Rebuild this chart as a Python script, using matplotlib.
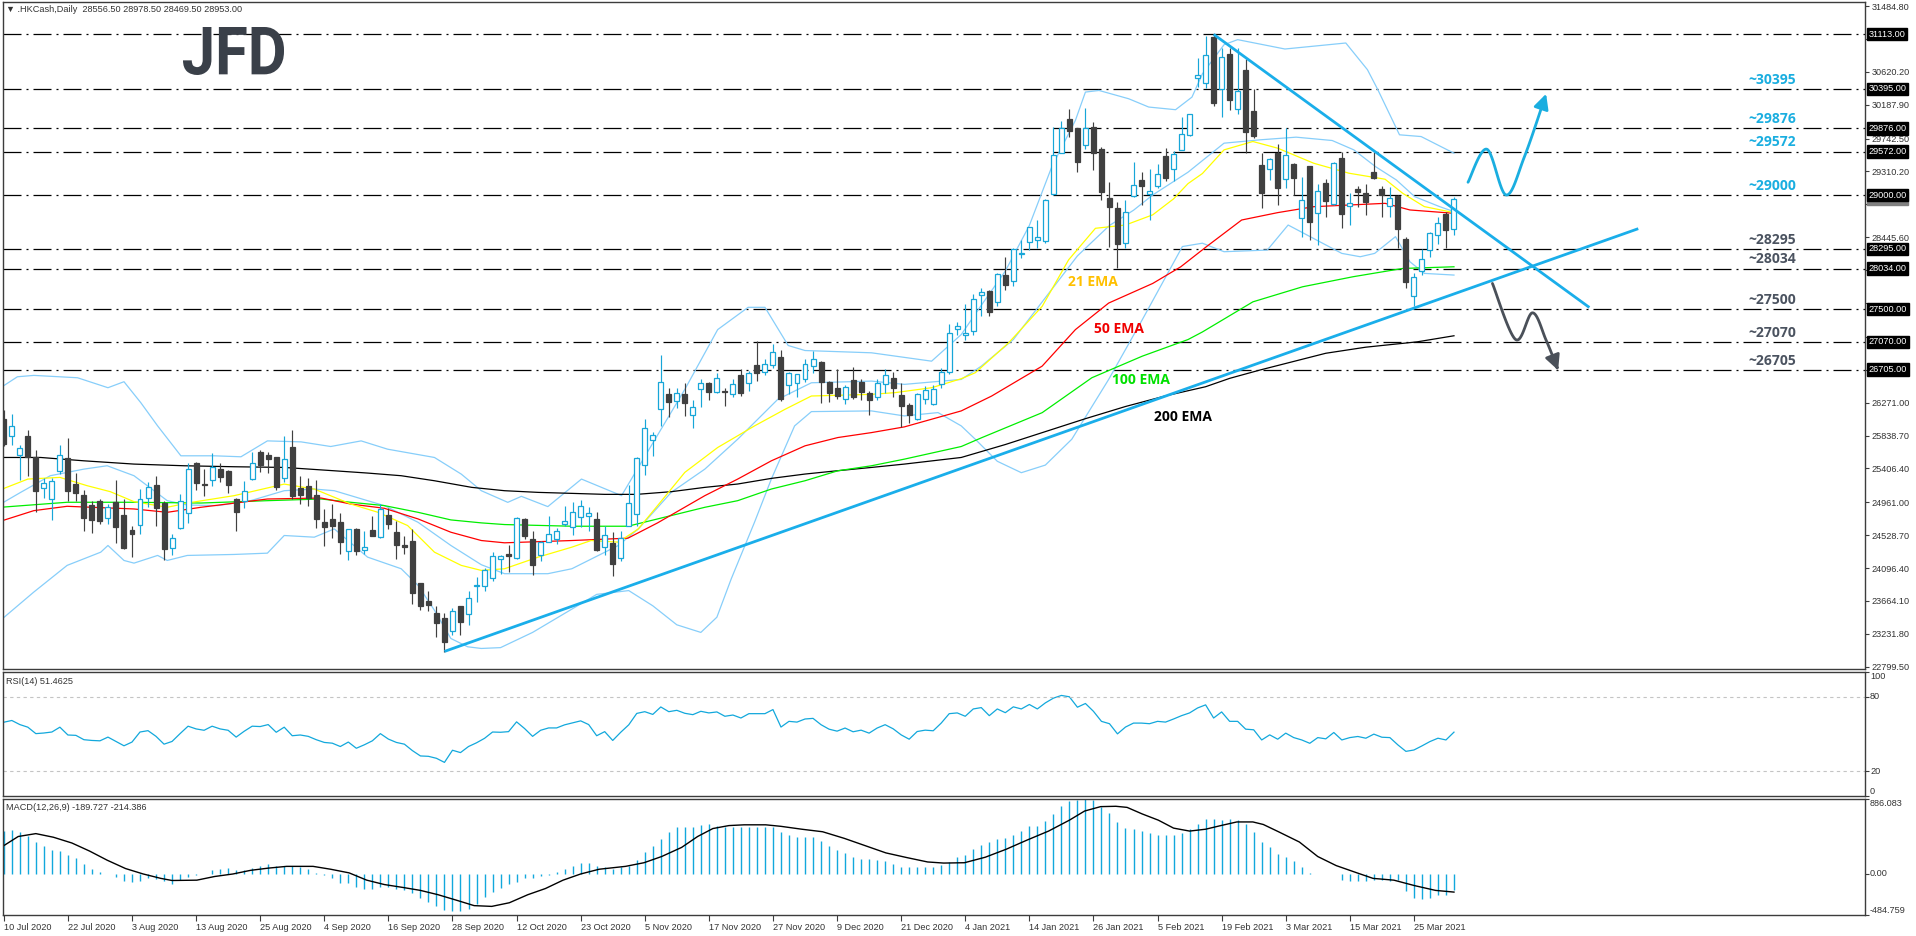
import numpy as np
import matplotlib
matplotlib.use("Agg")
import matplotlib.pyplot as plt
from matplotlib.transforms import blended_transform_factory, Affine2D
from matplotlib.textpath import TextPath
from matplotlib.font_manager import FontProperties
from matplotlib.patches import PathPatch

plt.rcParams['font.family'] = ['Liberation Sans', 'DejaVu Sans']

# ---------------- data ----------------
ohlc = [
(26061,26174,25700,25725),(25834,26117,25711,25965),(25589,25711,25257,25681),(25829,25908,25310,25554),
(25554,25646,24838,25113),(25152,25284,25021,25209),(24999,25284,24733,25235),(25375,25720,25331,25576),
(25541,25803,24982,25113),(25200,25345,24982,25087),(25056,25122,24589,24755),(24925,24982,24554,24733),
(24978,25004,24676,24720),(24759,24938,24681,24895),(24965,25249,24427,24642),(24794,25004,24349,24358),
(24598,24655,24244,24550),(24668,25135,24546,25000),(25013,25231,24904,25157),(25188,25301,24655,24882),
(24951,24982,24196,24353),(24358,24541,24262,24489),(24624,25070,24611,24982),(24816,25471,24690,25393),
(25476,25485,25122,25218),(25192,25393,25048,25183),(25249,25611,25179,25423),(25397,25476,25231,25297),
(25371,25388,25083,25192),(25004,25013,24589,24838),(24982,25236,24882,25105),(25262,25620,25253,25471),
(25620,25646,25362,25454),(25581,25616,25349,25528),(25554,25559,25126,25166),(25284,25829,25231,25524),
(25685,25908,25000,25048),(25148,25301,24938,25056),(25170,25279,24917,25013),(25056,25253,24624,24742),
(24703,24873,24380,24642),(24742,24938,24489,24655),(24703,24820,24283,24445),(24318,24611,24196,24607),
(24607,24620,24262,24318),(24340,24585,24275,24371),(24594,24777,24511,24524),(24498,24938,24489,24869),
(24794,24882,24611,24676),(24567,24716,24218,24393),(24397,24519,24275,24367),(24450,24611,23628,23773),
(23899,23899,23550,23598),(23663,23799,23528,23607),(23506,23598,23192,23375),(23441,23506,22995,23126),
(23266,23572,23222,23528),(23602,23602,23214,23384),(23493,23794,23345,23703),(23856,23978,23646,23864),
(23860,24100,23800,24065),(23965,24306,23930,24253),(24210,24270,24022,24253),(24284,24402,24044,24253),
(24231,24773,24218,24751),(24742,24751,24472,24524),(24480,24581,24000,24131),(24262,24450,24183,24437),
(24445,24777,24437,24541),(24472,24629,24415,24581),(24677,24908,24646,24712),(24633,24961,24537,24830),
(24764,24991,24642,24917),(24777,24904,24589,24816),(24742,24830,24314,24327),(24371,24646,24262,24533),
(24424,24568,23991,24144),(24227,24589,24183,24489),(24655,25188,24646,24952),(24808,25550,24655,25541),
(25454,26052,25319,25943),(25782,25891,25572,25847),(26183,26891,25965,26546),(26380,26467,26083,26279),
(26293,26458,26196,26393),(26380,26524,26096,26271),(26109,26301,25943,26218),(26445,26585,26218,26533),
(26533,26541,26306,26410),(26410,26664,26393,26598),(26428,26458,26227,26410),(26389,26585,26349,26520),
(26629,26716,26358,26393),(26533,26686,26423,26664),(26760,27087,26554,26655),(26677,26838,26629,26773),
(26764,27044,26720,26939),(26869,26969,26293,26314),(26502,26672,26380,26655),(26533,26651,26345,26642),
(26585,26851,26541,26782),(26751,26948,26664,26838),(26808,26817,26262,26546),(26541,26554,26279,26393),
(26458,26716,26314,26358),(26323,26502,26258,26476),(26563,26738,26314,26345),(26546,26585,26301,26410),
(26402,26423,26109,26306),(26349,26576,26306,26533),(26520,26716,26393,26633),(26598,26677,26349,26458),
(26367,26524,25956,26227),(26236,26271,26000,26109),(26052,26402,26044,26389),(26323,26489,26258,26437),
(26249,26502,26240,26445),(26520,26729,26458,26677),(26672,27310,26650,27188),(27240,27332,27166,27275),
(27161,27567,27100,27187),(27209,27703,27166,27633),(27685,27777,27406,27720),(27742,27746,27406,27458),
(27589,27974,27546,27961),(27952,28183,27746,27812),(27864,28301,27799,28288),(28231,28410,28166,28240),
(28388,28585,28271,28576),(28410,28672,28301,28445),(28397,28943,28375,28934),(29008,29895,29000,29532),
(29559,29974,29554,29886),(29995,30135,29764,29843),(29878,29886,29305,29436),(29664,30148,29607,29878),
(29891,29956,29327,29554),(29602,29633,28934,29043),(28956,29174,28323,28847),(28825,28904,28039,28353),
(28366,28934,28301,28773),(28991,29428,28978,29131),(29196,29297,28869,29122),(29008,29340,28672,29057),
(29122,29406,29087,29283),(29511,29620,29183,29227),(29336,29576,29187,29546),(29598,30026,29589,29808),
(29786,30070,29773,30065),(30541,30799,30419,30581),(30472,31087,30406,30845),(31073,31113,30165,30208),
(30393,30933,30024,30814),(30858,30933,30121,30252),(30130,30933,30068,30362),(30648,30788,29550,29835),
(30108,30393,29748,29770),(29396,29550,28826,29023),(29339,29493,29199,29471),(29559,29673,28870,29089),
(29212,29879,29089,29528),(29409,29418,29001,29221),(28694,29234,28453,28935),(29388,29388,28409,28641),
(28760,29146,28343,29058),(29155,29208,28707,28927),(28883,29440,28870,29418),(29484,29572,28562,28747),
(28856,29032,28606,28900),(29076,29124,28839,29045),(29023,29146,28738,28913),(29309,29572,29208,29221),
(29076,29120,28707,29001),(28856,29111,28716,28966),(28988,29001,28299,28549),(28422,28444,27772,27851),
(27671,27978,27540,27917),(28005,28286,27948,28163),(28277,28518,28189,28496),(28475,28707,28356,28637),
(28747,28782,28299,28540),(28556.5,28978.5,28469.5,28953.0),
]

date_labels = ["10 Jul 2020", "22 Jul 2020", "3 Aug 2020", "13 Aug 2020", "25 Aug 2020", "4 Sep 2020",
               "16 Sep 2020", "28 Sep 2020", "12 Oct 2020", "23 Oct 2020", "5 Nov 2020", "17 Nov 2020",
               "27 Nov 2020", "9 Dec 2020", "21 Dec 2020", "4 Jan 2021", "14 Jan 2021", "26 Jan 2021",
               "5 Feb 2021", "19 Feb 2021", "3 Mar 2021", "15 Mar 2021", "25 Mar 2021"]
date_bars = list(range(0, 177, 8))

ema21 = [(-0.4,25126),(3,25266),(7,25288),(10.4,25179),(13.3,25100),(16.25,24969),(20.4,24895),(22.9,24951),
         (28.75,25048),(35,25200),(38.75,25135),(43.3,24938),(46.7,24829),(50.4,24655),(53.75,24305),(57.1,24131),
         (59.6,24065),(62.5,24087),(66.7,24240),(70.9,24371),(73.3,24458),(76.7,24437),(79.2,24611),(81.6,24917),
         (85,25354),(89.1,25681),(93.7,25965),(97.5,26183),(100.8,26358),(108.3,26380),(111.2,26402),(115.8,26467),
         (119.5,26585),(121.25,26664),(125.4,27056),(129.6,27537),(132.9,28148),(136.25,28563),(140,28606),
         (143.4,28740),(146,28950),(147.8,29150),(149.6,29283),(152.3,29594),(155.9,29704),(159,29616),
         (163.5,29418),(167.9,29287),(172.4,29208),(174.6,29023),(177.3,28848),(181,28769)]
ema50 = [(-0.4,24712),(3.75,24851),(7.9,24908),(16.25,24873),(20.4,24829),(24.6,24895),(32.9,25004),(39.6,25017),
         (43.3,24938),(47.5,24882),(51.7,24742),(55.8,24567),(59.6,24458),(62.5,24428),(70.9,24458),(77.9,24489),
         (81.6,24690),(87.5,25048),(91.6,25266),(95.8,25506),(100,25703),(104.1,25812),(108.3,25877),(112.4,25952),
         (119.5,26162),(123.3,26358),(129.6,26751),(133.75,27231),(137.9,27580),(143.4,27838),(146.9,28057),
         (150.1,28321),(154.5,28672),(159,28769),(163.5,28847),(167.9,28869),(172.4,28891),(175.5,28804),(181,28760)]
ema100 = [(-0.4,24895),(7.9,24961),(16.25,24961),(24.6,24951),(32.9,24982),(39.6,25004),(43.3,24961),(47.5,24917),
          (51.7,24829),(55.8,24729),(59.6,24690),(62.5,24668),(70.9,24646),(77.9,24646),(81.6,24742),(87.5,24895),
          (91.6,24982),(95.8,25135),(100,25244),(104.1,25375),(108.3,25441),(112.4,25528),(119.5,25694),(122.1,25812),
          (129.6,26139),(135.8,26598),(142.1,26882),(147.8,27100),(149.6,27200),(155.9,27596),(162.1,27794),
          (168.4,27926),(174.6,28035),(181,28057)]
ema200 = [(-0.4,25550),(4.6,25550),(10,25506),(16.25,25463),(22.5,25441),(28.75,25428),(35,25419),(41.25,25375),
          (45.4,25345),(49.6,25310),(53.75,25244),(58.4,25157),(62.5,25113),(66.7,25091),(70.9,25078),(75,25065),
          (79,25065),(83.3,25100),(87.5,25157),(91.6,25201),(95.8,25275),(100,25332),(104,25375),(108.3,25419),
          (112.4,25463),(119.5,25550),(125,25720),(130,25890),(135,26060),(140,26220),(145,26360),(150,26480),
          (153,26590),(156.8,26700),(165,26920),(170,27000),(176.4,27070),(181,27150)]

bb_upper = [(-0.4,26467),(1.7,26611),(3.75,26629),(9.2,26598),(13,26467),(15,26546),(17.1,26270),(19.2,25965),
            (22.1,25572),(26.25,25572),(29.6,25559),(32.9,25768),(37.1,25755),(40.8,25694),(44.6,25768),(47.9,25659),
            (53.75,25550),(57.1,25331),(59.6,25113),(62.9,24960),(64.6,25039),(67.9,24904),(72.1,25266),(77.1,25048),
            (80.8,25703),(85,26445),(89.1,27231),(92.9,27524),(95,27524),(97.9,27022),(100,26956),(108.3,26926),
            (115.8,26816),(119.5,27166),(122,27550),(125,28000),(128,28600),(130.8,29371),(133.75,29982),(135,30354),
            (136.7,30375),(140.4,30266),(142.9,30157),(146.25,30122),(148.3,30288),(149.6,30594),(152.3,30977),
            (154,31043),(159.9,30920),(167.5,30999),(170.2,30648),(171.5,30384),(174.2,29792),(176.9,29769),(181,29550)]
bb_mid = [(-0.4,24938),(2.1,25091),(5.8,25310),(10,25397),(12.9,25441),(16.25,25310),(20.4,24982),(22.9,24925),
          (26.7,24917),(30.8,24982),(35,25113),(38.75,25135),(41.25,25113),(45.4,24982),(47.5,24917),(51.7,24698),
          (55.8,24393),(59.6,24140),(62.5,24022),(67.9,24022),(70.9,24087),(76.7,24393),(79.2,24611),(83.3,25091),
          (87.5,25397),(91.6,25790),(96.6,26314),(100.8,26532),(108.3,26554),(112.4,26511),(119.5,26576),(122,26750),
          (126,27100),(130,27650),(134,28200),(138,28600),(141,28800),(143.4,29001),(147.8,29300),(152.3,29682),
          (156.8,29726),(161.3,29761),(165.8,29717),(168.5,29594),(171.2,29374),(173.8,29199),(176.1,28979),
          (179.2,28848),(181,28782)]
bb_lower = [(-0.4,23410),(3.75,23781),(7.9,24131),(12.1,24305),(13,24393),(15,24196),(16.25,24161),(19.2,24262),
            (20.4,24196),(22.9,24262),(28.75,24275),(32.9,24292),(35,24524),(38.75,24502),(41.25,24611),(45.4,24240),
            (49.6,24087),(51.7,23869),(53.75,23541),(55.8,23170),(57.9,23061),(59.6,23039),(62,23050),(66,23250),
            (70,23500),(74,23750),(78,23800),(81,23600),(84,23350),(87,23250),(89,23450),(90.8,23956),(93.7,24699),
            (95.8,25266),(98.7,25965),(100.8,26153),(108.3,26162),(112.4,26096),(116.6,26140),(119.5,25965),
            (121.25,25790),(124,25500),(127,25350),(130,25450),(133.3,25790),(137.9,26576),(142.1,27362),(147.1,28323),
            (149.6,28367),(152.3,28255),(157.7,28277),(160.3,28606),(167,28233),(169.3,28189),(171.1,28233),
            (173.7,28453),(175.5,28123),(177.3,27970),(181,27948)]

levels_blue = [30395, 29876, 29572, 29000]
levels_gray = [28295, 28034, 27500, 27070, 26705]
level_top = 31113
last_price = 28953.00

price_ticks = [31484.80, 31052.50, 30620.20, 30187.90, 29742.50, 29310.20, 28877.90, 28445.60, 28013.30,
               27581.00, 27135.60, 26703.30, 26271.00, 25838.70, 25406.40, 24961.00, 24528.70, 24096.40,
               23664.10, 23231.80, 22799.50]
hidden_ticks = [31052.50, 28877.90, 28013.30, 27581.00, 27135.60, 26703.30]

trend_up = [(55, 23000), (204, 28558)]
trend_down = [(151, 31113), (197.9, 27522)]

arrow_up_path = [(182.75, 29168), (185.1, 29603), (187.5, 29001), (189.8, 29506), (192.5, 30331)]
arrow_down_path = [(185.8, 27838), (188.7, 27100), (190.8, 27452), (192.5, 27092), (194, 26697)]

ema_labels = [("21 EMA", 135.9, 27860, '#FFC000'), ("50 EMA", 139.2, 27245, '#F00000'),
              ("100 EMA", 141.9, 26563, '#00E000'), ("200 EMA", 147.2, 26079, '#000000')]

rsi = [59.5, 60.9, 57.6, 55.5, 50.3, 50.8, 51.6, 55.5, 49.2, 48.9, 45.4, 44.8, 44.5, 47.5, 44.0, 40.5, 43.5, 51.6,
       52.7, 48.1, 41.8, 44.0,
       50.3, 56.3, 54.1, 53.0, 56.3, 54.1, 53.0, 47.5, 52.2, 56.3, 56.0, 57.6, 51.4, 55.5, 48.6, 49.2, 48.1, 45.4,
       43.2, 42.6, 39.9, 43.5,
       38.5, 41.3, 44.5, 50.3, 45.9, 43.2, 41.8, 36.6, 32.3, 32.0, 30.4, 27.1, 36.9, 35.0, 39.9, 42.9, 46.5, 51.6,
       51.4, 51.9, 59.8, 54.4,
       48.1, 53.0, 54.9, 54.9, 57.4, 59.0, 60.6, 57.6, 48.6, 51.9, 44.8, 51.4, 57.4, 66.6, 68.0, 65.8, 71.8, 68.0, 69.1,
       66.7, 65.6, 68.3, 67.0, 67.8, 64.3, 65.3, 62.9, 66.4, 66.4, 66.4, 69.7,
       55.6, 60.2, 59.6, 62.1, 62.6, 57.5, 53.9, 52.3, 54.8, 51.8, 53.1, 50.7,
       54.8, 57.5, 54.2, 49.3, 45.8, 52.0, 53.1, 52.6, 58.8, 66.4, 67.0, 64.3,
       70.2, 71.3, 64.8, 70.2, 67.2, 71.9, 70.2, 73.8, 70.2, 75.1, 78.9, 81.1,
       80.0, 71.6, 74.6, 68.3, 60.2, 58.3, 50.1, 55.6, 58.8, 58.8, 58.3, 60.2,
       59.6, 62.1, 64.8, 67.0, 71.0, 73.5, 62.9, 67.8, 60.2, 60.2, 53.9, 53.4,
       45.2, 49.3, 45.8, 50.7, 47.1, 45.2, 42.5, 47.1, 46.1, 51.2, 45.2, 47.1,
       48.0, 46.6, 49.9, 47.4, 47.1, 41.2, 36.0, 37.1, 40.4, 43.9, 46.6, 45.2, 51.5]

macd_hist = [507, 520, 494, 443, 378, 327, 280, 271, 228, 185, 120, 56, 21, -5, -30, -82, -95, -82, -52, -65, -86,
             -116, -73, -30, -9, 4, 43, 56, 65, 43, 43, 65, 90, 120, 99, 99, 90, 77, 56, 13, -9, -52,
             -103, -108, -150, -172, -172, -150, -159, -172, -194, -224, -288, -331, -374, -430, -439, -439, -417,
             -353, -267, -215, -168,
             -116, -95, -52, -52, -22, -9, 21, 56, 99, 129, 129, 90, 77, 56, 77, 99, 168, 262, 327, 409, 495, 550,
             559, 559, 581, 594, 572, 550, 550, 550, 550, 550, 550, 550,
             499, 464, 434, 434, 434, 391, 335, 279, 249, 206, 176, 172,
             163, 150, 120, 86, 86, 86, 77, 77, 107, 142, 198, 228,
             292, 348, 378, 409, 421, 464, 507, 563, 572, 628, 714, 800,
             860, 873, 881, 873, 796, 722, 619, 546, 533, 511, 490, 464,
             464, 464, 490, 533, 589, 649, 649, 641, 654, 641, 585, 499,
             378, 314, 241, 198, 150, 86, 9, 4, -4, 4, -73, -82,
             -86, -82, -73, -73, -82, -73, -202, -279, -301, -288, -254, -245, -190]

macd_signal = [(0,335),(1.8,443),(4,477),(6.2,434),(8.5,366),(10.7,271),(12.9,163),(15.2,64),(17.4,0),(19.6,-52),
               (21,-77),(24.1,-73),(26.3,-30),(28.6,0),(30.8,43),(33,69),(35.3,90),(38.6,90),(40.8,56),(43.1,13),
               (45.3,-73),(47.5,-125),(49.8,-159),(52,-194),(54.2,-245),(56.5,-310),(58.7,-374),(60.9,-383),
               (63.1,-340),(65.4,-245),(67.6,-172),(69.8,-73),(72,0),(74.3,56),(77.6,90),(79.9,133),(82.1,206),
               (84.6,314),(86.6,443),(88.5,537),(90.5,572),(92.4,581),(95.1,581),(97,563),(99.6,529),(102.2,499),
               (104.9,421),(107.5,335),(110.1,249),(112.7,194),(115.3,142),(117.3,129),(119.9,133),(122.5,198),
               (125.1,292),(127.7,400),(130.4,507),(133,636),(134.9,744),(136.9,796),(138.8,800),(140.2,787),
               (142.1,709),(144.1,636),(146,542),(148,507),(150,529),(151.9,572),(153.9,615),(155.9,615),
               (157.2,585),(159.1,499),(161.7,378),(164,206),(166.3,99),(168.9,13),(170.9,-52),(173.5,-73),
               (176.1,-138),(178.7,-194),(181,-214)]

# ---------------- layout ----------------
W, H = 1916, 936
fig = plt.figure(figsize=(W / 100, H / 100), dpi=100, facecolor='white')


def rect(l, t, r, b):
    return [l / W, 1 - b / H, (r - l) / W, (b - t) / H]


ax = fig.add_axes(rect(3, 2, 1865, 669))
ax_rsi = fig.add_axes(rect(3, 672, 1865, 796), sharex=ax)
ax_macd = fig.add_axes(rect(3, 799, 1865, 915), sharex=ax)

SPINE = '#3c3c3c'
TXT = '#333333'
BULL = '#17A6D8'
BEAR = '#404040'
BAND = '#87CEFA'
TREND = '#1AAEEA'
FS = 6.6

for a in (ax, ax_rsi, ax_macd):
    for s in a.spines.values():
        s.set_color(SPINE)
        s.set_linewidth(1.0)
    a.set_facecolor('white')

ax.set_xlim(-0.1, 232.3)
ax.set_ylim(22769, 31538)

# level lines
dash = (0, (14.4, 4.0, 1.6, 4.0))
for lv in [level_top] + levels_blue + levels_gray:
    ax.axhline(lv, color='black', lw=0.9, linestyle=dash, zorder=1)


def plot_series(a, pairs, **kw):
    xs = [p[0] for p in pairs]
    ys = [p[1] for p in pairs]
    a.plot(xs, ys, **kw)


# bollinger + emas
for band in (bb_upper, bb_mid, bb_lower):
    plot_series(ax, band, color=BAND, lw=0.9, zorder=2)
plot_series(ax, ema200, color='black', lw=0.9, zorder=2)
plot_series(ax, ema100, color='#00EE00', lw=0.9, zorder=2)
plot_series(ax, ema50, color='#FF0000', lw=0.9, zorder=2)
plot_series(ax, ema21, color='#FFFF00', lw=0.9, zorder=2)

# candles
o = np.array([r[0] for r in ohlc], float)
h = np.array([r[1] for r in ohlc], float)
l = np.array([r[2] for r in ohlc], float)
c = np.array([r[3] for r in ohlc], float)
x = np.arange(len(o))
up = c >= o
lo = np.minimum(o, c)
hi = np.maximum(o, c)
hgt = np.maximum(hi - lo, 12)
ax.vlines(x[up], l[up], h[up], color=BULL, lw=0.85, zorder=3)
ax.vlines(x[~up], l[~up], h[~up], color=BEAR, lw=0.85, zorder=3)
ax.bar(x[up], hgt[up], bottom=lo[up], width=0.62, facecolor='white', edgecolor=BULL, lw=0.9, zorder=4)
ax.bar(x[~up], hgt[~up], bottom=lo[~up], width=0.62, facecolor=BEAR, edgecolor=BEAR, lw=0.9, zorder=4)

# trend lines
for tl in (trend_up, trend_down):
    ax.plot([tl[0][0], tl[1][0]], [tl[0][1], tl[1][1]], color=TREND, lw=2.0, zorder=5,
            solid_capstyle='butt')


# scenario arrows (smooth path through waypoints)
def smooth(pts, n=20):
    P = np.array(pts, float)
    P = np.vstack([P[0], P, P[-1]])
    out = []
    for k in range(1, len(P) - 2):
        p0, p1, p2, p3 = P[k - 1], P[k], P[k + 1], P[k + 2]
        for t in np.linspace(0, 1, n, endpoint=False):
            t2, t3 = t * t, t * t * t
            out.append(0.5 * ((2 * p1) + (-p0 + p2) * t + (2 * p0 - 5 * p1 + 4 * p2 - p3) * t2 +
                              (-p0 + 3 * p1 - 3 * p2 + p3) * t3))
    out.append(P[-2])
    return np.array(out)


for pts, col in ((arrow_up_path, '#1AAEE0'), (arrow_down_path, '#4A5059')):
    s = smooth(pts)
    ax.plot(s[:-3, 0], s[:-3, 1], color=col, lw=2.0, zorder=5, solid_capstyle='round')
    ax.annotate('', xy=tuple(s[-1]), xytext=tuple(s[-4]),
                arrowprops=dict(arrowstyle='-|>,head_length=0.9,head_width=0.45', color=col, lw=2.0,
                                shrinkA=0, shrinkB=0), zorder=6)

# level text labels
for lv in levels_blue:
    ax.annotate(f"~{lv}", xy=(220.7, lv), xytext=(0, 1.5), textcoords='offset points', ha='center',
                va='bottom', color='#1AAEE0', fontsize=10, fontweight='bold',
                family=['Open Sans', 'DejaVu Sans'], zorder=6)
for lv in levels_gray:
    ax.annotate(f"~{lv}", xy=(220.7, lv), xytext=(0, 1.5), textcoords='offset points', ha='center',
                va='bottom', color='#4B5360', fontsize=10, fontweight='bold',
                family=['Open Sans', 'DejaVu Sans'], zorder=6)

for txt, xi, yv, col in ema_labels:
    ax.text(xi, yv, txt, color=col, fontsize=10, fontweight='bold', ha='center', va='center',
            family=['Open Sans', 'DejaVu Sans'], zorder=6)

# right price axis
ax.yaxis.tick_right()
ax.set_yticks(price_ticks)
ax.set_yticklabels(["" if v in hidden_ticks else f"{v:.2f}" for v in price_ticks])
ax.tick_params(axis='y', direction='out', length=3, width=0.8, colors=SPINE, labelcolor=TXT,
               labelsize=FS, pad=2)
ax.tick_params(axis='x', bottom=False, labelbottom=False)
bt = blended_transform_factory(ax.transAxes, ax.transData)
xb = 1.0 + 3.5 / 1862
# current price (gray) tag lies under the 29000 tag
ax.text(xb, last_price, f"{last_price:.2f}", transform=bt, ha='left', va='center', color='white',
        fontsize=FS, bbox=dict(boxstyle='square,pad=0.18', fc='#808080', ec='#808080'), clip_on=False, zorder=9)
for lv in [level_top] + levels_blue + levels_gray:
    ax.text(xb, lv, f"{lv:.2f}", transform=bt, ha='left', va='center', color='white',
            fontsize=FS, bbox=dict(boxstyle='square,pad=0.18', fc='black', ec='black'), clip_on=False,
            zorder=10)

# ---------------- RSI ----------------
ax_rsi.set_ylim(0, 100)
ax_rsi.plot(np.arange(len(rsi)), rsi, color='#12A8DC', lw=0.9)
for lv in (80, 20):
    ax_rsi.axhline(lv, color='#C4C4C4', lw=0.8, linestyle=(0, (3, 3)))
ax_rsi.yaxis.tick_right()
ax_rsi.set_yticks([100, 80, 20, 0])
ax_rsi.set_yticklabels([])
ax_rsi.tick_params(axis='y', direction='out', length=3, width=0.8, colors=SPINE)
ax_rsi.tick_params(axis='x', bottom=False, labelbottom=False)
bt_r = blended_transform_factory(ax_rsi.transAxes, ax_rsi.transData)
for v, va in ((100, 'top'), (80, 'center'), (20, 'center'), (0, 'bottom')):
    ax_rsi.text(1.0 + 5 / 1862, v, str(v), transform=bt_r, ha='left', va=va, fontsize=FS, color=TXT,
                clip_on=False)

# ---------------- MACD ----------------
mmax, mmin = 886.083, -484.759
ax_macd.set_ylim(mmin, mmax)
xm = np.arange(len(macd_hist))
ax_macd.vlines(xm, 0, macd_hist, color='#12A8DC', lw=1.0)
plot_series(ax_macd, macd_signal, color='black', lw=1.0)
ax_macd.yaxis.tick_right()
ax_macd.set_yticks([mmax, 0, mmin])
ax_macd.set_yticklabels([])
ax_macd.tick_params(axis='y', direction='out', length=3, width=0.8, colors=SPINE)
bt_m = blended_transform_factory(ax_macd.transAxes, ax_macd.transData)
for v, s, va in ((mmax, "886.083", 'top'), (0, "0.00", 'center'), (mmin, "-484.759", 'bottom')):
    ax_macd.text(1.0 + 5 / 1862, v, s, transform=bt_m, ha='left', va=va, fontsize=FS, color=TXT,
                 clip_on=False)

ax_macd.set_xticks(date_bars)
ax_macd.set_xticklabels(date_labels, ha='left', fontsize=FS, color=TXT)
ax_macd.tick_params(axis='x', direction='out', length=4, width=0.8, colors=SPINE, labelcolor=TXT, pad=2)

# ---------------- texts ----------------
fig.text(6 / W, 1 - 10 / H, "\u25BC .HKCash,Daily  28556.50 28978.50 28469.50 28953.00", fontsize=FS,
         color=TXT, va='center', ha='left')
fig.text(6 / W, 1 - 681 / H, "RSI(14) 51.4625", fontsize=FS, color=TXT, va='center', ha='left')
fig.text(6 / W, 1 - 807 / H, "MACD(12,26,9) -189.727 -214.386", fontsize=FS, color=TXT, va='center', ha='left')

# JFD logo
fp = FontProperties(family=['Roboto', 'DejaVu Sans'], weight='bold')
tp = TextPath((0, 0), "JFD", size=100, prop=fp)
bb = tp.get_extents()
lx0, lx1, ly0, ly1 = 183, 284, H - 75, H - 27
tr = Affine2D().translate(-bb.x0, -bb.y0).scale((lx1 - lx0) / bb.width, (ly1 - ly0) / bb.height).translate(lx0, ly0)
fig.add_artist(PathPatch(tp, transform=tr, fc='#3A4049', ec='none', zorder=20))

fig.savefig("out.png", dpi=100, facecolor='white')
